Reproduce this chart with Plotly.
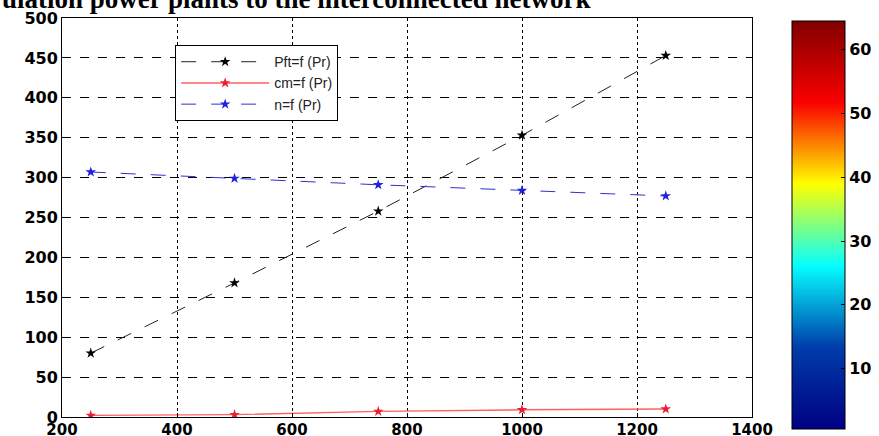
import plotly.graph_objects as go

pr = [250, 500, 750, 1000, 1250]
pft = [80, 168, 258, 353, 453]
cm = [2, 3, 7, 9, 10]
n_vals = [307, 299, 291, 284, 277]
title_text = "ulation power plants to the interconnected network"
cbar_ticks = [10, 20, 30, 40, 50, 60]

tick_font = dict(family="DejaVu Sans", size=16, color="black", weight="bold")
xtick_font = dict(family="DejaVu Sans", size=15, color="black", weight="bold")

fig = go.Figure()
fig.add_trace(go.Scatter(x=pr, y=pft, mode="lines+markers", name="Pft=f (Pr)",
                         line=dict(color="#222222", width=1, dash="longdash"),
                         marker=dict(symbol="star", size=8, color="black")))
fig.add_trace(go.Scatter(x=pr, y=cm, mode="lines+markers", name="cm=f (Pr)",
                         line=dict(color="#ff6060", width=1.4),
                         marker=dict(symbol="star", size=8, color="#e82030")))
fig.add_trace(go.Scatter(x=pr, y=n_vals, mode="lines+markers", name="n=f (Pr)",
                         line=dict(color="#3030d0", width=1, dash="longdash"),
                         marker=dict(symbol="star", size=8, color="#2020e0")))
# colorbar holder
fig.add_trace(go.Scatter(x=[None], y=[None], mode="markers", showlegend=False,
                         hoverinfo="skip",
                         marker=dict(color=[0.5, 64.5], cmin=0.5, cmax=64.5,
                                     colorscale="Jet", showscale=True,
                                     colorbar=dict(x=1.058, xanchor="left", xref="paper",
                                                   xpad=0, ypad=0,
                                                   y=0.481, yanchor="middle",
                                                   len=408, lenmode="pixels",
                                                   thickness=53, thicknessmode="pixels",
                                                   outlinecolor="black", outlinewidth=1,
                                                   tickvals=cbar_ticks, ticks="inside",
                                                   ticklen=4, tickcolor="black",
                                                   tickfont=tick_font))))

fig.update_layout(
    width=879, height=436,
    margin=dict(l=62, r=127, t=18, b=19, autoexpand=False),
    paper_bgcolor="white", plot_bgcolor="white",
    showlegend=True,
    legend=dict(x=0.164, y=0.932, xanchor="left", yanchor="top",
                bordercolor="black", borderwidth=1, bgcolor="white",
                font=dict(family="Liberation Sans", size=14, color="#222222"),
                tracegroupgap=0, itemwidth=88),
    xaxis=dict(range=[200, 1400], dtick=200, tick0=200, showgrid=True,
               gridcolor="black", griddash="dot", gridwidth=1,
               showline=True, linecolor="black", linewidth=1, mirror=True,
               ticks="inside", ticklen=4, tickcolor="black", zeroline=False,
               ticklabelstandoff=-1, tickfont=xtick_font),
    yaxis=dict(range=[0, 500], dtick=50, showgrid=True,
               gridcolor="black", griddash="dash", gridwidth=1,
               showline=True, linecolor="black", linewidth=1, mirror=True,
               ticks="inside", ticklen=4, tickcolor="black", zeroline=False,
               tickfont=tick_font),
    annotations=[dict(text=title_text, xref="paper", yref="paper",
                      x=-0.0899, y=1.005, xanchor="left", yanchor="bottom",
                      showarrow=False,
                      font=dict(family="Liberation Serif", size=27, color="black",
                                weight="bold"))],
)

fig.write_html("out.html", config={"displayModeBar": False},
               post_script="document.body.style.margin='0';")
